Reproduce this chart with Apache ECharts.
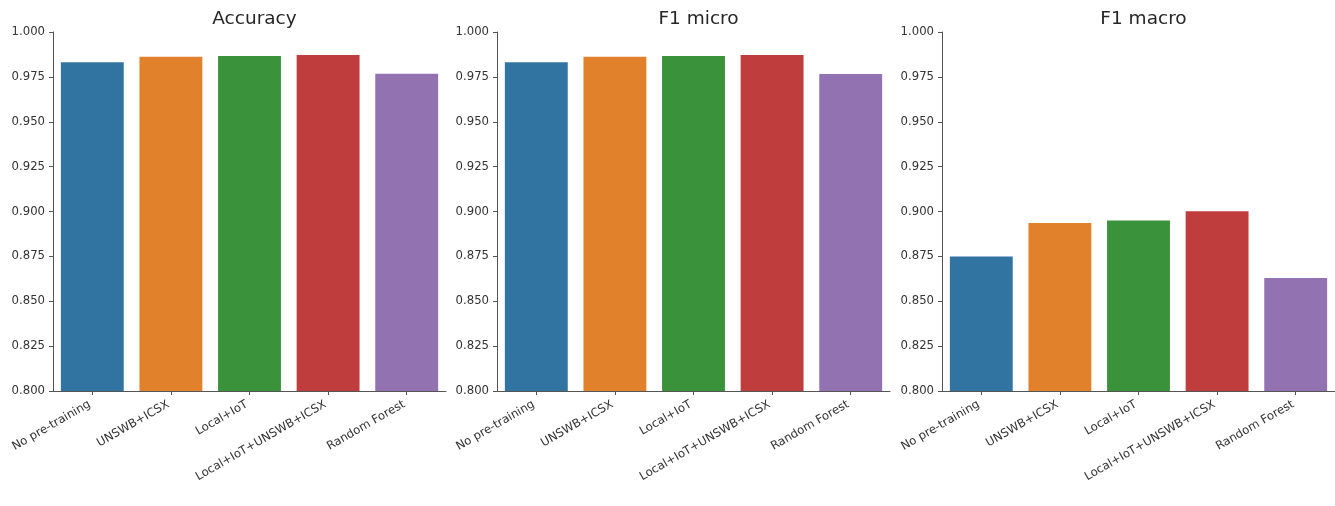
<!DOCTYPE html>
<html>
<head>
<meta charset="utf-8">
<script src="https://cdn.jsdelivr.net/npm/echarts@6/dist/echarts.min.js"></script>
<style>
html,body{margin:0;padding:0;background:#fff;}
#chart{width:1335px;height:506px;}
</style>
</head>
<body>
<div id="chart"></div>
<script>
const categories = ['No pre-training', 'UNSWB+ICSX', 'Local+IoT', 'Local+IoT+UNSWB+ICSX', 'Random Forest'];
const titles = ['Accuracy', 'F1 micro', 'F1 macro'];
const accuracy = [0.9831, 0.9862, 0.9866, 0.9872, 0.9768];
const f1Micro = [0.9831, 0.9862, 0.9866, 0.9872, 0.9766];
const f1Macro = [0.8750, 0.8936, 0.8950, 0.9002, 0.8630];
const yTicks = [0.800, 0.825, 0.850, 0.875, 0.900, 0.925, 0.950, 0.975, 1.000];
const colors = ['#3274a1', '#e1812c', '#3a923a', '#c03d3e', '#9372b2'];

const panels = [accuracy, f1Micro, f1Macro];
const lefts = [53, 497, 942];
const plotW = 393;
const FONT = 'DejaVu Sans';

const chart = echarts.init(document.getElementById('chart'));
const option = {
  animation: false,
  textStyle: { fontFamily: FONT },
  title: titles.map((t, i) => ({
    text: t,
    left: lefts[i] + plotW / 2,
    top: 5,
    textAlign: 'center',
    textStyle: { fontFamily: FONT, fontSize: 18.5, fontWeight: 'normal', color: '#262626' }
  })),
  grid: lefts.map(l => ({
    left: l, width: plotW, top: 32, height: 359,
    containLabel: false, outerBoundsMode: 'none'
  })),
  xAxis: panels.map((_, i) => ({
    type: 'category',
    gridIndex: i,
    data: categories,
    axisLine: { show: true, lineStyle: { color: '#555', width: 1 } },
    axisTick: { show: true, alignWithLabel: true, length: 4, lineStyle: { color: '#555' } },
    axisLabel: { interval: 0, rotate: 30, fontSize: 11.7, color: '#333', margin: 11, padding: [0, 3, 0, 0], fontFamily: FONT },
    splitLine: { show: false }
  })),
  yAxis: panels.map((_, i) => ({
    type: 'value',
    gridIndex: i,
    min: yTicks[0],
    max: yTicks[yTicks.length - 1],
    interval: 0.025,
    axisLine: { show: true, lineStyle: { color: '#555', width: 1 } },
    axisTick: { show: true, length: 4, lineStyle: { color: '#555' } },
    axisLabel: { fontSize: 11.7, color: '#333', margin: 8, fontFamily: FONT, formatter: v => v.toFixed(3) },
    splitLine: { show: false }
  })),
  series: panels.map((vals, i) => ({
    type: 'bar',
    xAxisIndex: i,
    yAxisIndex: i,
    barCategoryGap: '20%',
    data: vals.map((v, j) => ({ value: v, itemStyle: { color: colors[j] } }))
  }))
};
chart.setOption(option);
</script>
</body>
</html>
